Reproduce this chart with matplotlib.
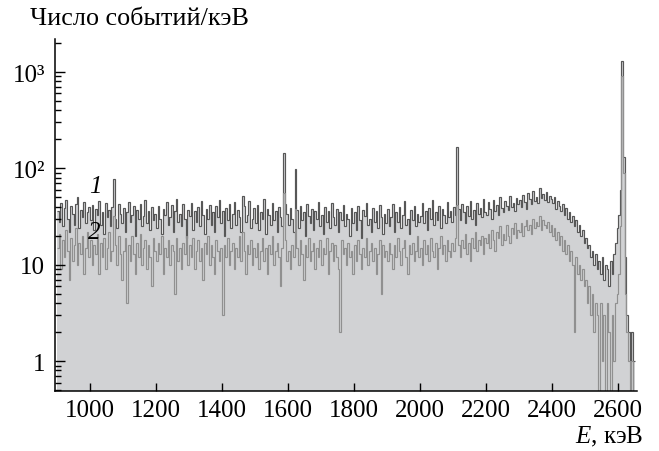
import numpy as np
import matplotlib
matplotlib.use("Agg")
import matplotlib.pyplot as plt
from matplotlib.ticker import FixedLocator, FixedFormatter, LogLocator, NullFormatter

plt.rcParams['font.family'] = ['Liberation Serif', 'DejaVu Serif']
plt.rcParams['mathtext.fontset'] = 'custom'
plt.rcParams['mathtext.it'] = 'Liberation Serif:italic'
plt.rcParams['mathtext.rm'] = 'Liberation Serif'

# 5 keV bins, first bin starts at 900 keV
bin_start = 900
bin_width = 5

# spectrum 1 (counts per keV), one row = 100 keV
spec1 = [
    36, 28, 44, 25, 39, 47, 30, 22, 41, 34, 26, 43, 50, 24, 37, 31, 45, 27, 35, 40,
    29, 42, 23, 38, 33, 46, 26, 35, 21, 44, 31, 37, 25, 40, 78, 30, 24, 43, 34, 27,
    39, 22, 35, 45, 28, 33, 41, 20, 37, 30, 43, 25, 32, 47, 27, 36, 23, 40, 29, 34,
    24, 41, 30, 21, 38, 33, 45, 26, 31, 42, 22, 36, 48, 28, 34, 25, 43, 30, 19, 37,
    32, 44, 23, 36, 28, 40, 25, 46, 33, 21, 38, 30, 42, 26, 35, 22, 41, 31, 47, 27,
    36, 20, 39, 29, 43, 24, 34, 45, 26, 37, 31, 22, 52, 41, 28, 33, 46, 24, 30, 39,
    27, 42, 23, 35, 30, 48, 21, 38, 33, 26, 44, 29, 36, 22, 40, 31, 25, 145, 43, 34,
    26, 39, 30, 22, 98, 37, 24, 41, 29, 35, 20, 43, 32, 27, 38, 23, 36, 30, 45, 25,
    33, 21, 40, 28, 36, 24, 44, 31, 26, 38, 22, 35, 29, 42, 25, 34, 30, 20, 39, 27,
    35, 23, 41, 29, 19, 37, 32, 44, 26, 30, 22, 39, 28, 36, 24, 42, 31, 21, 34, 27,
    38, 25, 31, 43, 22, 35, 28, 40, 24, 33, 46, 26, 30, 21, 37, 29, 41, 25, 34, 28,
    32, 44, 27, 36, 23, 39, 30, 47, 26, 35, 29, 41, 24, 38, 33, 27, 45, 31, 36, 28,
    40, 33, 165, 38, 29, 43, 35, 27, 41, 32, 46, 30, 37, 26, 44, 34, 39, 31, 48, 35,
    33, 45, 38, 30, 47, 36, 42, 33, 50, 39, 35, 46, 41, 37, 52, 40, 44, 36, 49, 43,
    47, 40, 53, 45, 38, 55, 48, 43, 58, 46, 51, 44, 62, 49, 54, 47, 57, 45, 52, 48,
    44, 50, 38, 46, 41, 36, 43, 33, 39, 30, 35, 28, 32, 25, 29, 22, 26, 20, 23, 17,
    19, 15, 16, 12, 14, 10, 13, 9, 11, 8, 12, 7, 10, 9, 6, 11, 8, 13, 17, 24,
    33, 60, 1300, 130, 12, 3, 2, 1, 2, 1,
]

# spectrum 2 (counts per keV)
spec2 = [
    15, 21, 9, 18, 12, 23, 14, 7, 19, 11, 16, 24, 10, 17, 13, 20, 8, 15, 22, 12,
    18, 10, 16, 13, 21, 8, 17, 12, 19, 9, 15, 22, 11, 14, 32, 16, 10, 20, 13, 7,
    14, 19, 4, 16, 11, 20, 13, 8, 17, 12, 21, 10, 15, 18, 9, 16, 12, 6, 19, 14,
    11, 17, 13, 20, 8, 15, 12, 18, 10, 16, 14, 5, 19, 11, 15, 9, 17, 13, 20, 10,
    16, 12, 19, 9, 14, 18, 11, 15, 7, 17, 13, 20, 10, 16, 12, 8, 18, 14, 11, 15,
    3, 16, 12, 19, 10, 14, 17, 9, 15, 12, 20, 11, 22, 14, 8, 16, 13, 18, 10, 15,
    12, 17, 9, 14, 19, 11, 15, 8, 16, 13, 20, 10, 14, 17, 12, 6, 15, 55, 18, 11,
    14, 9, 16, 12, 38, 15, 10, 18, 13, 7, 16, 12, 19, 11, 14, 17, 9, 15, 12, 18,
    10, 15, 13, 19, 8, 14, 17, 11, 16, 12, 9, 2, 18, 13, 15, 10, 17, 12, 14, 8,
    16, 11, 18, 13, 9, 15, 12, 19, 10, 14, 17, 11, 15, 8, 13, 18, 5, 16, 12, 14,
    11, 17, 13, 9, 16, 12, 19, 14, 10, 15, 18, 12, 8, 16, 13, 17, 11, 14, 20, 12,
    15, 10, 18, 13, 16, 11, 19, 14, 12, 17, 9, 15, 20, 13, 16, 11, 18, 14, 12, 17,
    14, 19, 42, 16, 12, 18, 15, 21, 13, 17, 11, 19, 15, 22, 14, 18, 16, 20, 13, 19,
    17, 21, 15, 23, 18, 14, 22, 19, 25, 16, 21, 18, 26, 20, 17, 24, 21, 27, 19, 23,
    22, 27, 20, 25, 29, 23, 26, 21, 30, 24, 28, 25, 32, 23, 29, 26, 24, 28, 22, 26,
    20, 24, 18, 22, 16, 20, 14, 18, 13, 16, 11, 14, 10, 2, 12, 8, 10, 7, 9, 6,
    7, 4, 6, 3, 5, 2, 4, 3, 0, 4, 1, 3, 0, 4, 2, 0, 3, 1, 4, 5,
    8, 25, 900, 90, 5, 2, 1, 0, 1, 0,
]

x_ticks = [1000, 1200, 1400, 1600, 1800, 2000, 2200, 2400, 2600]
y_ticks = [1, 10, 100, 1000]
y_tick_labels = ['1', '10', '10²', '10³']

edges = bin_start + bin_width * np.arange(len(spec1) + 1)
s1 = np.maximum(np.array(spec1, dtype=float), 0.05)
s2 = np.maximum(np.array(spec2, dtype=float), 0.05)

fig = plt.figure(figsize=(6.59, 4.52), dpi=100)
ax = fig.add_axes([0.0835, 0.1327, 0.8831, 0.7788])

ax.stairs(s1, edges, fill=True, color='#d1d2d4', baseline=0.05, lw=0)
ax.stairs(s1, edges, baseline=None, color='#575757', lw=0.85)
ax.stairs(s2, edges, baseline=None, color='#909090', lw=0.85)

ax.set_yscale('log')
ax.set_xlim(894, 2657)
ax.set_ylim(0.49, 2200)

ax.yaxis.set_major_locator(FixedLocator(y_ticks))
ax.yaxis.set_major_formatter(FixedFormatter(y_tick_labels))
ax.yaxis.set_minor_locator(LogLocator(base=10, subs=np.arange(2, 10)))
ax.yaxis.set_minor_formatter(NullFormatter())
ax.set_xticks(x_ticks)

for s in ['top', 'right']:
    ax.spines[s].set_visible(False)
for s in ['left', 'bottom']:
    ax.spines[s].set_linewidth(1.1)

ax.tick_params(axis='both', which='both', direction='in', labelsize=18, width=1.0)
ax.tick_params(axis='y', which='major', length=7, pad=7)
ax.tick_params(axis='y', which='minor', length=4.5)
ax.tick_params(axis='x', which='major', length=6, pad=6)

ax.text(1015, 66, '1', fontsize=18, style='italic', ha='center', va='center')
ax.text(1012, 22, '2', fontsize=18, style='italic', ha='center', va='center')

fig.text(30 / 659, 1 - 19 / 452, 'Число событий/кэВ', fontsize=18.8, ha='left', va='center')
fig.text(643 / 659, 1 - 437 / 452, '$E$, кэВ', fontsize=18, ha='right', va='center')

fig.savefig('out.png', dpi=100)
